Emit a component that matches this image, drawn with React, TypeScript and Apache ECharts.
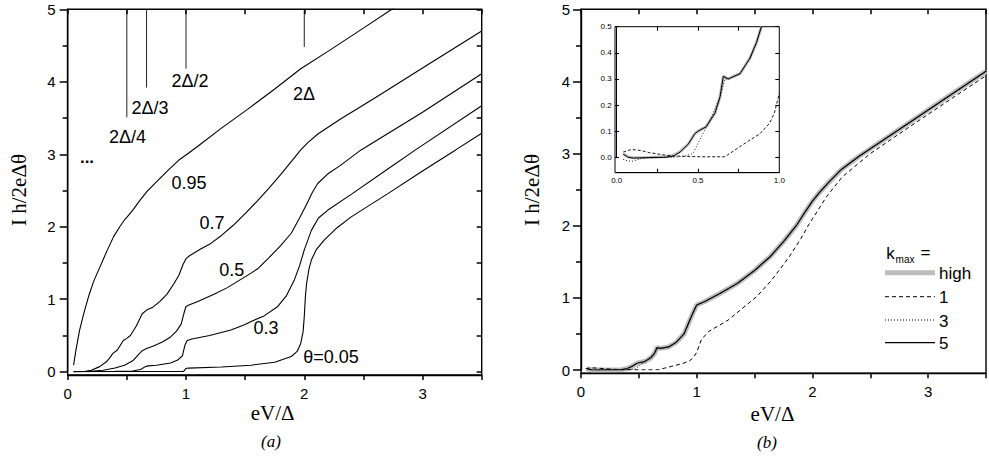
import React, { useEffect, useRef } from "react";
import * as echarts from "echarts";

// ---------- Panel (a): I h/2eΔθ vs eV/Δ for several θ ----------
const theta095: [number, number][] = [
  [0.05, 0.09], [0.07, 0.3], [0.1, 0.57], [0.14, 0.83], [0.175, 1.03], [0.22, 1.25], [0.274, 1.45],
  [0.33, 1.66], [0.387, 1.86], [0.44, 2.0], [0.487, 2.11], [0.5, 2.13], [0.55, 2.23], [0.614, 2.37],
  [0.658, 2.46], [0.667, 2.48], [0.75, 2.62], [0.85, 2.78], [0.94, 2.92], [1.0, 2.99], [1.1, 3.11],
  [1.3, 3.36], [1.52, 3.62], [1.75, 3.9], [1.97, 4.18], [2.0, 4.21], [2.2, 4.42], [2.5, 4.74],
  [2.74, 5.0], [2.8, 5.07],
];
const theta07: [number, number][] = [
  [0.05, 0], [0.15, 0.005], [0.2, 0.02], [0.27, 0.07], [0.33, 0.14], [0.36, 0.2], [0.38, 0.25],
  [0.42, 0.3], [0.47, 0.43], [0.5, 0.46], [0.53, 0.5], [0.58, 0.63], [0.63, 0.8], [0.667, 0.85],
  [0.72, 0.89], [0.78, 0.97], [0.84, 1.07], [0.9, 1.22], [0.94, 1.33], [0.975, 1.48], [1.0, 1.56],
  [1.03, 1.6], [1.12, 1.69], [1.21, 1.77], [1.3, 1.88], [1.4, 2.02], [1.5, 2.18], [1.606, 2.36],
  [1.7, 2.53], [1.8, 2.72], [1.9, 2.92], [1.97, 3.06], [2.03, 3.16], [2.115, 3.28], [2.3, 3.48],
  [2.6, 3.78], [3.0, 4.19], [3.5, 4.7],
];
const theta05: [number, number][] = [
  [0.05, 0], [0.19, 0.005], [0.3, 0.02], [0.4, 0.05], [0.48, 0.09], [0.5, 0.105], [0.55, 0.15],
  [0.6, 0.24], [0.63, 0.29], [0.667, 0.32], [0.72, 0.35], [0.8, 0.41], [0.87, 0.48], [0.92, 0.56],
  [0.96, 0.66], [0.985, 0.82], [1.0, 0.9], [1.025, 0.92], [1.1, 0.97], [1.237, 1.07], [1.35, 1.16],
  [1.45, 1.26], [1.55, 1.36], [1.606, 1.42], [1.7, 1.57], [1.8, 1.74], [1.89, 1.91], [1.96, 2.12],
  [2.02, 2.31], [2.07, 2.48], [2.115, 2.6], [2.2, 2.73], [2.3, 2.84], [2.48, 3.06], [3.0, 3.58],
  [3.5, 4.11],
];
const theta03: [number, number][] = [
  [0.05, 0], [0.4, 0.005], [0.55, 0.01], [0.615, 0.03], [0.657, 0.07], [0.68, 0.08], [0.75, 0.09],
  [0.87, 0.12], [0.93, 0.16], [0.97, 0.22], [0.99, 0.36], [1.01, 0.43], [1.05, 0.45], [1.2, 0.5],
  [1.38, 0.575], [1.5, 0.65], [1.56, 0.7], [1.66, 0.77], [1.776, 0.9], [1.85, 1.05], [1.917, 1.27],
  [1.96, 1.46], [2.0, 1.68], [2.06, 1.95], [2.12, 2.12], [2.2, 2.23], [2.4, 2.45], [2.7, 2.79],
  [2.94, 3.06], [3.5, 3.67],
];
const theta005: [number, number][] = [
  [0.05, 0], [0.98, 0.005], [1.0, 0.045], [1.02, 0.05], [1.3, 0.065], [1.55, 0.09], [1.75, 0.13],
  [1.89, 0.21], [1.94, 0.28], [1.97, 0.39], [1.99, 0.55], [2.0, 0.76], [2.01, 1.05], [2.02, 1.22],
  [2.04, 1.42], [2.06, 1.54], [2.1, 1.68], [2.17, 1.82], [2.28, 1.99], [2.4, 2.14], [2.7, 2.45],
  [3.0, 2.77], [3.28, 3.06], [3.5, 3.29],
];
const thresholdX = [0.5, 2 / 3, 1.0, 2.0];
const thresholdBottom = [3.51, 3.92, 4.18, 4.48];
const thresholdTop = 5;

// ---------- Panel (b): k_max comparison ----------
const kHigh: [number, number][] = [
  [0.05, 0.02], [0.1, 0.0], [0.35, 0.005], [0.4, 0.02], [0.44, 0.05], [0.48, 0.09], [0.5, 0.1],
  [0.55, 0.117], [0.605, 0.17], [0.635, 0.23], [0.656, 0.31], [0.686, 0.3], [0.758, 0.32],
  [0.82, 0.38], [0.89, 0.5], [0.94, 0.69], [0.97, 0.8], [1.0, 0.9], [1.07, 0.95], [1.2, 1.06],
  [1.35, 1.2], [1.5, 1.38], [1.634, 1.57], [1.75, 1.78], [1.86, 2.0], [1.94, 2.2], [2.0, 2.34],
  [2.06, 2.46], [2.14, 2.6], [2.25, 2.78], [2.4, 2.96], [2.82, 3.41], [3.2, 3.82], [3.5, 4.14],
];
const k5: [number, number][] = [
  [0.05, 0.02], [0.1, 0.0], [0.35, 0.005], [0.4, 0.02], [0.44, 0.05], [0.48, 0.09], [0.5, 0.1],
  [0.55, 0.117], [0.605, 0.17], [0.635, 0.23], [0.656, 0.31], [0.686, 0.3], [0.758, 0.32],
  [0.82, 0.38], [0.89, 0.5], [0.94, 0.69], [0.97, 0.8], [1.0, 0.9], [1.07, 0.95], [1.2, 1.06],
  [1.35, 1.2], [1.5, 1.38], [1.634, 1.57], [1.75, 1.78], [1.86, 2.0], [1.94, 2.2], [2.0, 2.34],
  [2.06, 2.46], [2.14, 2.6], [2.25, 2.78], [2.4, 2.96], [2.82, 3.41], [3.2, 3.82], [3.5, 4.14],
];
const k3: [number, number][] = [
  [0.05, -0.01], [0.1, -0.015], [0.15, -0.005], [0.2, 0.0], [0.35, 0.0], [0.42, 0.005], [0.47, 0.015],
  [0.51, 0.066], [0.574, 0.143], [0.635, 0.23], [0.666, 0.3], [0.686, 0.3], [0.758, 0.32],
  [0.82, 0.38], [0.89, 0.5], [0.94, 0.69], [0.97, 0.8], [1.0, 0.9], [1.07, 0.95], [1.2, 1.06],
  [1.35, 1.2], [1.5, 1.38], [1.634, 1.57], [1.75, 1.78], [1.86, 2.0], [1.94, 2.2], [2.0, 2.34],
  [2.06, 2.46], [2.14, 2.6], [2.25, 2.78], [2.4, 2.96], [2.82, 3.41], [3.2, 3.82], [3.5, 4.14],
];
const k1: [number, number][] = [
  [0.04, 0.02], [0.09, 0.03], [0.15, 0.026], [0.2, 0.018], [0.3, 0.008], [0.35, 0.005], [0.5, 0.002],
  [0.666, 0.002], [0.72, 0.025], [0.78, 0.05], [0.88, 0.09], [0.94, 0.13], [0.97, 0.17], [1.0, 0.245],
  [1.04, 0.42], [1.1, 0.53], [1.27, 0.69], [1.52, 1.02], [1.65, 1.25], [1.8, 1.57], [1.9, 1.82],
  [1.97, 2.02], [2.05, 2.22], [2.12, 2.4], [2.26, 2.68], [2.5, 3.0], [2.82, 3.35], [3.2, 3.76],
  [3.5, 4.08],
];
// inset (low-bias detail)
const insetHigh: [number, number][] = [
  [0.04, 0.014], [0.07, 0.002], [0.1, -0.002], [0.2, -0.001], [0.3, 0.002], [0.35, 0.008],
  [0.39, 0.022], [0.44, 0.05], [0.48, 0.09], [0.5, 0.1], [0.55, 0.117], [0.605, 0.17], [0.635, 0.23],
  [0.656, 0.31], [0.686, 0.3], [0.758, 0.32], [0.82, 0.38], [0.86, 0.44], [0.89, 0.5],
];
const insetK5: [number, number][] = [
  [0.04, 0.012], [0.07, 0.0], [0.1, -0.003], [0.2, -0.001], [0.3, 0.0], [0.35, 0.005], [0.39, 0.02],
  [0.44, 0.05], [0.48, 0.09], [0.5, 0.1], [0.55, 0.117], [0.605, 0.17], [0.635, 0.23], [0.656, 0.31],
  [0.686, 0.3], [0.758, 0.32], [0.82, 0.38], [0.86, 0.44], [0.89, 0.5],
];
const insetK3: [number, number][] = [
  [0.04, -0.008], [0.07, -0.014], [0.1, -0.015], [0.15, -0.005], [0.2, 0.0], [0.35, 0.0],
  [0.42, 0.005], [0.47, 0.015], [0.51, 0.066], [0.574, 0.143], [0.635, 0.23], [0.666, 0.3],
  [0.686, 0.3], [0.758, 0.32], [0.82, 0.38], [0.86, 0.44], [0.89, 0.5],
];
const insetK1: [number, number][] = [
  [0.04, 0.02], [0.09, 0.03], [0.15, 0.026], [0.2, 0.018], [0.3, 0.008], [0.35, 0.005], [0.5, 0.002],
  [0.666, 0.002], [0.72, 0.025], [0.78, 0.05], [0.88, 0.09], [0.94, 0.13], [0.97, 0.17], [1.0, 0.245],
];

const legendNames = ["high", "1", "3", "5"];
const panelY = { min: 0, max: 5 };
const panelX = { min: 0, max: 3.5 };
const mainXTicks = [0, 0.5, 1, 1.5, 2, 2.5, 3, 3.5];
const mainYMajor = [0, 1, 2, 3, 4, 5];
const mainYMinor = [0.5, 1.5, 2.5, 3.5, 4.5];
const insetXTicks = [0.25, 0.5, 0.75];
const insetYTicks = [0, 0.1, 0.2, 0.3, 0.4, 0.5];

const SANS = "'Liberation Sans', Arial, Helvetica, sans-serif";
const SERIF = "'Liberation Serif', 'Times New Roman', serif";

const axisLineMain = { show: true, onZero: false, lineStyle: { color: "#000", width: 1.4 } };
const axisLineThin = { show: true, onZero: false, lineStyle: { color: "#000", width: 1 } };

function mainX(grid: number, offset: number) {
  return {
    gridIndex: grid, type: "value", position: "bottom", min: panelX.min, max: panelX.max, interval: 0.5,
    offset, axisLine: axisLineMain, axisTick: { show: false },
    axisLabel: {
      show: true, margin: 11, color: "#000", fontSize: 15, fontFamily: SANS,
      formatter: (v: number) => (Math.abs(v - Math.round(v)) < 1e-9 ? String(Math.round(v)) : ""),
    },
    splitLine: { show: false },
  };
}
function mainY(grid: number, margin: number) {
  return {
    gridIndex: grid, type: "value", position: "left", min: panelY.min, max: panelY.max, interval: 1,
    axisLine: axisLineMain, axisTick: { show: false }, minorTick: { show: false },
    axisLabel: { show: true, margin, color: "#000", fontSize: 15, fontFamily: SANS },
    splitLine: { show: false }, minorSplitLine: { show: false },
  };
}

function line(name: string, data: [number, number][], xi: number, yi: number, style: any, z = 2, clip = true) {
  return {
    name, type: "line", xAxisIndex: xi, yAxisIndex: yi, data, symbol: "none", showSymbol: false,
    smooth: false, clip, z, lineStyle: style, itemStyle: { color: style.color },
  };
}

function text(t: string, x: number, y: number, size: number, extra: any = {}) {
  return {
    type: "text", x, y,
    style: { text: t, fill: "#000", font: `${size}px ${SANS}`, textAlign: "center", textVerticalAlign: "middle", ...extra },
  };
}

const legendStyles = [
  { stroke: "#bdbdbd", lineWidth: 5 },
  { stroke: "#000", lineWidth: 1, lineDash: [4, 3] },
  { stroke: "#000", lineWidth: 1, lineDash: [1, 2] },
  { stroke: "#000", lineWidth: 1.2 },
];
const legendRowY = [272.7, 296.7, 320, 342.7];

export default function App() {
  const ref = useRef<HTMLDivElement>(null);
  useEffect(() => {
    const chart = echarts.init(ref.current!, null, { renderer: "svg" });
    const blk = { color: "#000", width: 1.1 };
    const series: any[] = [
      line("θ=0.95", theta095, 0, 0, blk),
      line("θ=0.7", theta07, 0, 0, blk),
      line("θ=0.5", theta05, 0, 0, blk),
      line("θ=0.3", theta03, 0, 0, blk),
      line("θ=0.05", theta005, 0, 0, blk),
      ...thresholdX.map((x, i) =>
        line(`threshold${i}`, [[x, thresholdBottom[i]], [x, thresholdTop]], 0, 0, { color: "#222", width: 1 })
      ),
      line("high", kHigh, 1, 1, { color: "#bdbdbd", width: 5 }, 1),
      line("1", k1, 1, 1, { color: "#000", width: 1, type: [4, 3] }, 2),
      line("3", k3, 1, 1, { color: "#000", width: 1, type: [1, 2] }, 3),
      line("5", k5, 1, 1, { color: "#000", width: 1.2 }, 4),
      line("high", insetHigh, 2, 2, { color: "#bdbdbd", width: 3 }, 1, false),
      line("1", insetK1, 2, 2, { color: "#000", width: 0.9, type: [3, 2] }, 2, false),
      line("3", insetK3, 2, 2, { color: "#000", width: 0.9, type: [1, 2] }, 3, false),
      line("5", insetK5, 2, 2, { color: "#000", width: 1 }, 4, false),
    ];
    const option: any = {
      animation: false,
      grid: [
        { left: 67.7, top: 9.3, width: 414, height: 362.4 },
        { left: 581, top: 9.3, width: 412, height: 360.7 },
        { left: 616.7, top: 26.7, width: 162.6, height: 130.6 },
      ],
      xAxis: [
        mainX(0, 3.3),
        mainX(1, 3.3),
        {
          gridIndex: 2, type: "value", position: "bottom", min: 0, max: 1, interval: 0.25, offset: 15.4,
          axisLine: axisLineThin, axisTick: { show: false },
          axisLabel: {
            show: true, margin: 4, color: "#000", fontSize: 8, fontFamily: SANS,
            formatter: (v: number) => (Math.abs(v * 2 - Math.round(v * 2)) < 1e-9 ? v.toFixed(1) : ""),
          },
          splitLine: { show: false },
        },
      ],
      yAxis: [
        mainY(0, 12),
        mainY(1, 11),
        {
          gridIndex: 2, type: "value", position: "left", min: 0, max: 0.5, interval: 0.1,
          axisLine: axisLineThin, axisTick: { show: false },
          axisLabel: { show: true, margin: 5, color: "#000", fontSize: 8, fontFamily: SANS, formatter: (v: number) => v.toFixed(1) },
          splitLine: { show: false },
        },
      ],
      series,
    };
    chart.setOption(option);

    // Tick marks as "lines" series, positioned through the library's scales
    const px = (ax: number, v: number) => chart.convertToPixel({ xAxisIndex: ax }, v) as number;
    const py = (ax: number, v: number) => chart.convertToPixel({ yAxisIndex: ax }, v) as number;
    const fromPx = (g: number, x: number, y: number) => chart.convertFromPixel({ gridIndex: g }, [x, y]) as number[];
    const segs: any[][] = [[], [], []];
    const seg = (g: number, x1: number, y1: number, x2: number, y2: number) =>
      segs[g].push({ coords: [fromPx(g, x1, y1), fromPx(g, x2, y2)] });

    const aL = px(0, 0), aR = px(0, 3.5), aT = py(0, 5), aB = py(0, 0) + 3.3;
    mainXTicks.forEach((v) => { const x = px(0, v); seg(0, x, aB, x, aB + 5); seg(0, x, aT, x, aT + 5); });
    mainYMajor.forEach((v) => { const y = py(0, v); seg(0, aL - 8, y, aL, y); seg(0, aR - 5, y, aR, y); });
    mainYMinor.forEach((v) => { const y = py(0, v); seg(0, aL - 5, y, aL, y); seg(0, aR - 5, y, aR, y); });
    const bL = px(1, 0), bR = px(1, 3.5), bT = py(1, 5), bB = py(1, 0) + 3.3;
    mainXTicks.forEach((v) => { const x = px(1, v); seg(1, x, bB, x, bB + 5); seg(1, x, bT, x, bT + 5); });
    mainYMajor.forEach((v) => { const y = py(1, v); seg(1, bL - 8, y, bL, y); });
    mainYMinor.forEach((v) => { const y = py(1, v); seg(1, bL - 5, y, bL, y); });
    const iL = px(2, 0) - 1.7, iR = px(2, 1), iT = py(2, 0.5), iB = py(2, 0) + 15.4;
    insetXTicks.forEach((v) => { const x = px(2, v); seg(2, x, iB, x, iB - 4); seg(2, x, iT, x, iT + 4); });
    insetYTicks.forEach((v) => { const y = py(2, v); seg(2, iL, y, iL + 4, y); seg(2, iR - 4, y, iR, y); });

    const tickSeries = segs.map((d, g) => ({
      name: `ticks${g}`, type: "lines", coordinateSystem: "cartesian2d", xAxisIndex: g, yAxisIndex: g,
      data: d, clip: false, z: 6, silent: true, polyline: false, effect: { show: false },
      lineStyle: { color: "#000", width: g === 2 ? 1.1 : 1.5, opacity: 1, curveness: 0 },
    }));

    const legendGraphics: any[] = [];
    legendNames.forEach((n, i) => {
      legendGraphics.push({
        type: "line", shape: { x1: 885, y1: legendRowY[i], x2: 935, y2: legendRowY[i] },
        style: { ...legendStyles[i], fill: "none" },
      });
      legendGraphics.push(text(n, 939, legendRowY[i] + 1, 17, { textAlign: "left" }));
    });

    chart.setOption({
      series: [...series, ...tickSeries],
      graphic: [
        { type: "rect", shape: { x: aL, y: aT, width: aR - aL, height: aB - aT }, style: { fill: "none", stroke: "#000", lineWidth: 1.4 } },
        { type: "rect", shape: { x: bL, y: bT, width: bR - bL, height: bB - bT }, style: { fill: "none", stroke: "#000", lineWidth: 1.4 } },
        { type: "rect", shape: { x: iL, y: iT, width: iR - iL, height: iB - iT }, style: { fill: "none", stroke: "#000", lineWidth: 1 } },
        text("2Δ/4", 127.5, 137, 18),
        text("2Δ/3", 150, 108, 18),
        text("2Δ/2", 190, 81, 18),
        text("2Δ", 304, 94, 18),
        text("...", 87, 157, 17, { font: `bold 17px ${SANS}` }),
        text("0.95", 189, 183, 18),
        text("0.7", 212, 222.5, 18),
        text("0.5", 231.7, 270.3, 18),
        text("0.3", 266, 328, 18),
        text("θ=0.05", 331, 356.7, 18),
        text("k", 890.5, 253, 17),
        text("max", 905, 259, 10),
        text("=", 925.5, 252, 17),
        ...legendGraphics,
        { type: "text", x: 19, y: 190, rotation: Math.PI / 2,
          style: { text: "I h/2eΔθ", fill: "#000", font: `21px ${SERIF}`, textAlign: "center", textVerticalAlign: "middle" } },
        { type: "text", x: 532, y: 190, rotation: Math.PI / 2,
          style: { text: "I h/2eΔθ", fill: "#000", font: `21px ${SERIF}`, textAlign: "center", textVerticalAlign: "middle" } },
        { type: "text", x: 272.7, y: 413,
          style: { text: "eV/Δ", fill: "#000", font: `21px ${SERIF}`, textAlign: "center", textVerticalAlign: "middle" } },
        { type: "text", x: 772.5, y: 414,
          style: { text: "eV/Δ", fill: "#000", font: `21px ${SERIF}`, textAlign: "center", textVerticalAlign: "middle" } },
        { type: "text", x: 271, y: 441,
          style: { text: "(a)", fill: "#000", font: `italic 17px ${SERIF}`, textAlign: "center", textVerticalAlign: "middle" } },
        { type: "text", x: 767, y: 442,
          style: { text: "(b)", fill: "#000", font: `italic 17px ${SERIF}`, textAlign: "center", textVerticalAlign: "middle" } },
      ],
    });
    return () => chart.dispose();
  }, []);
  return (
    <div
      ref={ref}
      style={{ position: "fixed", left: 0, top: 0, width: 989, height: 459, background: "#fff" }}
    />
  );
}
